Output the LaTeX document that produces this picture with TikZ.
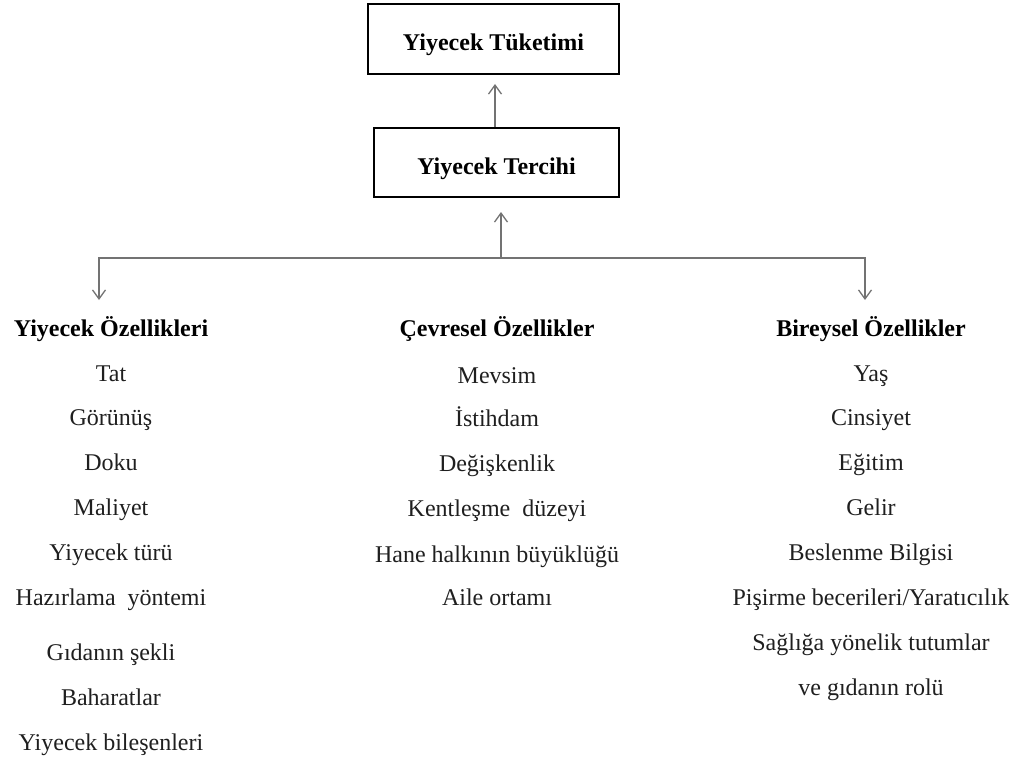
\documentclass[tikz,border=0pt]{standalone}
\usepackage{fontspec}
\setmainfont{Liberation Serif}
\usetikzlibrary{arrows.meta}
\begin{document}
\begin{tikzpicture}[x=1pt,y=-1pt,
  every node/.style={text=black!88, font=\fontsize{24}{28}\selectfont},
  box/.style={draw=black, line width=2pt, inner sep=0pt, text=black,
    text height=24pt, text depth=0pt,
    font=\fontsize{24}{28}\selectfont\bfseries},
  head/.style={anchor=base, text=black, font=\fontsize{24}{28}\selectfont\bfseries},
  item/.style={anchor=base},
  link/.style={draw=black!55, line width=1.3pt},
  tip/.style={-{Straight Barb[length=9pt,width=13pt]}}]
\useasboundingbox (0,0) rectangle (1023,760);

% central chain
\node[box, minimum width=251pt, minimum height=70pt] (cons) at (493.5,39) {Yiyecek Tüketimi};
\node[box, minimum width=245pt, minimum height=69pt] (pref) at (496.5,162.5) {Yiyecek Tercihi};
\draw[link, tip, shorten >=9pt] ([xshift=-1.5pt]pref.north) -- ([xshift=1.5pt]cons.south);

% branching connector
\coordinate (hub) at (501,258);
\coordinate (ltip) at (99,300);
\coordinate (rtip) at (865,300);
\draw[link, tip, shorten >=14pt] (hub) -- (hub |- pref.south);
\draw[link, tip] (hub) -| (ltip);
\draw[link, tip] (hub) -| (rtip);

% column headings
\node[head] (food) at (111,336) {Yiyecek Özellikleri};
\node[head] (env) at (497,336) {Çevresel Özellikler};
\node[head] (ind) at (871,336) {Bireysel Özellikler};

% food properties
\foreach \t/\y [count=\i] in {Tat/381, Görünüş/425, Doku/470, Maliyet/515,
    Yiyecek türü/560, Hazırlama\ \ yöntemi/605, Gıdanın şekli/660,
    Baharatlar/705, Yiyecek bileşenleri/750}
  \node[item] (food\i) at (111,\y) {\t};

% environmental properties
\foreach \t/\y [count=\i] in {Mevsim/383, İstihdam/426, Değişkenlik/471,
    Kentleşme\ \ düzeyi/516, Hane halkının büyüklüğü/562, Aile ortamı/605}
  \node[item] (env\i) at (497,\y) {\t};

% individual properties
\foreach \t/\y [count=\i] in {Yaş/381, Cinsiyet/425, Eğitim/470, Gelir/515,
    Beslenme Bilgisi/560, {Pişirme becerileri/Yaratıcılık}/605,
    Sağlığa yönelik tutumlar/650, ve gıdanın rolü/695}
  \node[item] (ind\i) at (871,\y) {\t};
\end{tikzpicture}
\end{document}
